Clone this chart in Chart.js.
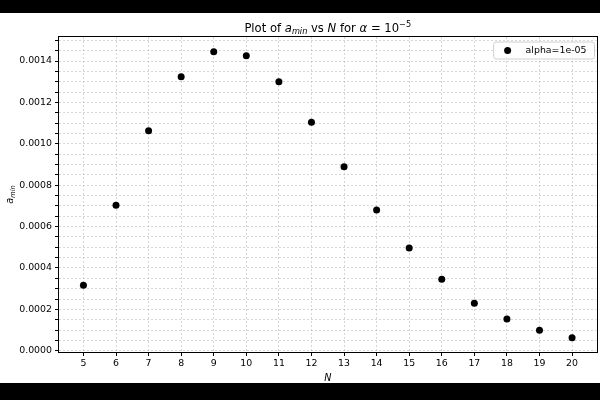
<!DOCTYPE html>
<html><head><meta charset="utf-8">
<script src="https://cdn.jsdelivr.net/npm/chart.js@4/dist/chart.umd.min.js"></script>
<style>
html,body{margin:0;padding:0;background:#000;width:600px;height:400px;overflow:hidden}
#wrap{position:absolute;left:0;top:13px;width:600px;height:370px;background:#fff}
canvas{display:block}
</style></head><body>
<div id="wrap"><canvas id="c" width="600" height="370"></canvas></div>
<script>
// ---- data ----
const categoriesN = [5, 6, 7, 8, 9, 10, 11, 12, 13, 14, 15, 16, 17, 18, 19, 20];
const aMinValues = [0.000317, 0.000703, 0.001063, 0.001324, 0.001445, 0.001426, 0.001300, 0.001104,
                    0.000889, 0.000680, 0.000496, 0.000346, 0.000230, 0.000153, 0.000099, 0.000063];
const seriesLabel = 'alpha=1e-05';
const xTickValues = [5, 6, 7, 8, 9, 10, 11, 12, 13, 14, 15, 16, 17, 18, 19, 20];
const yMajorTicks = [0, 0.0002, 0.0004, 0.0006, 0.0008, 0.0010, 0.0012, 0.0014];
const yTickLabels = ['0.0000', '0.0002', '0.0004', '0.0006', '0.0008', '0.0010', '0.0012', '0.0014'];
const yMinorStep = 0.00005;

const FONT = "'DejaVu Sans', sans-serif";
const yAllTicks = [];
for (let i = 0; i * yMinorStep <= 0.0015 + 1e-12; i++) yAllTicks.push(+(i * yMinorStep).toFixed(6));

const gridColor = 'rgba(160,160,160,0.7)';

const titlePlugin = {
  id: 'mathTitle',
  afterDraw(chart) {
    const ctx = chart.ctx, ca = chart.chartArea;
    const size = 11.6, small = 8.2;
    const parts = [
      {t: 'Plot of ', s: size, it: false, dy: 0},
      {t: 'a', s: size, it: true, dy: 0},
      {t: 'min', s: small, it: true, dy: 2.6},
      {t: ' vs ', s: size, it: false, dy: 0},
      {t: 'N', s: size, it: true, dy: 0},
      {t: ' for ', s: size, it: false, dy: 0},
      {t: 'α', s: size, it: true, dy: 0},
      {t: ' = 10', s: size, it: false, dy: 0},
      {t: '−5', s: small, it: false, dy: -4.8}
    ];
    ctx.save();
    ctx.fillStyle = '#000';
    ctx.textBaseline = 'alphabetic';
    ctx.textAlign = 'left';
    let total = 0;
    parts.forEach(p => { ctx.font = (p.it ? 'italic ' : '') + p.s + 'px ' + FONT; p.w = ctx.measureText(p.t).width; total += p.w; });
    let x = (ca.left + ca.right) / 2 - total / 2;
    const base = 18.5;
    parts.forEach(p => { ctx.font = (p.it ? 'italic ' : '') + p.s + 'px ' + FONT; ctx.fillText(p.t, x, base + p.dy); x += p.w; });
    ctx.restore();
  }
};

const yLabelPlugin = {
  id: 'yLabel',
  afterDraw(chart) {
    const ctx = chart.ctx, ca = chart.chartArea;
    ctx.save();
    ctx.translate(12.5, (ca.top + ca.bottom) / 2);
    ctx.rotate(-Math.PI / 2);
    ctx.fillStyle = '#000';
    ctx.textBaseline = 'alphabetic';
    ctx.font = 'italic 9.6px ' + FONT;
    const w1 = ctx.measureText('a').width;
    ctx.font = 'italic 6.8px ' + FONT;
    const w2 = ctx.measureText('min').width;
    const x0 = -(w1 + w2) / 2;
    ctx.font = 'italic 9.6px ' + FONT;
    ctx.fillText('a', x0, 0);
    ctx.font = 'italic 6.8px ' + FONT;
    ctx.fillText('min', x0 + w1, 2);
    ctx.restore();
  }
};

const framePlugin = {
  id: 'frame',
  afterDatasetsDraw(chart) {
    const ctx = chart.ctx, ca = chart.chartArea;
    ctx.save();
    ctx.strokeStyle = '#000';
    ctx.lineWidth = 1;
    ctx.strokeRect(Math.round(ca.left) - 0.5, Math.round(ca.top) - 0.5,
                   Math.round(ca.right - ca.left) + 1, Math.round(ca.bottom - ca.top) + 1);
    ctx.restore();
  }
};

const legendPlugin = {
  id: 'mplLegend',
  afterDraw(chart) {
    const ctx = chart.ctx, ca = chart.chartArea;
    const ds = chart.data.datasets[0];
    ctx.save();
    ctx.font = '9.4px ' + FONT;
    const tw = ctx.measureText(ds.label).width;
    const bw = 32 + tw + 8, bh = 17;
    const bx = ca.right - 2 - bw, by = ca.top + 5;
    const r = 2.5;
    ctx.beginPath();
    ctx.moveTo(bx + r, by);
    ctx.arcTo(bx + bw, by, bx + bw, by + bh, r);
    ctx.arcTo(bx + bw, by + bh, bx, by + bh, r);
    ctx.arcTo(bx, by + bh, bx, by, r);
    ctx.arcTo(bx, by, bx + bw, by, r);
    ctx.closePath();
    ctx.fillStyle = 'rgba(255,255,255,0.85)';
    ctx.fill();
    ctx.strokeStyle = '#d0d0d0';
    ctx.lineWidth = 1;
    ctx.stroke();
    ctx.beginPath();
    ctx.arc(bx + 14, by + bh / 2, 3.5, 0, Math.PI * 2);
    ctx.fillStyle = ds.backgroundColor;
    ctx.fill();
    ctx.fillStyle = '#000';
    ctx.textBaseline = 'middle';
    ctx.fillText(ds.label, bx + 32, by + bh / 2 + 0.5);
    ctx.restore();
  }
};

new Chart(document.getElementById('c'), {
  type: 'scatter',
  data: {
    datasets: [{
      label: seriesLabel,
      data: categoriesN.map((n, i) => ({x: n, y: aMinValues[i]})),
      backgroundColor: '#000',
      borderColor: '#000',
      pointRadius: 3.5,
      pointHoverRadius: 3.5,
      borderWidth: 0
    }]
  },
  options: {
    responsive: false,
    animation: false,
    devicePixelRatio: 1,
    layout: {padding: {top: 24, right: 2, left: 0, bottom: 0}},
    plugins: {legend: {display: false}, title: {display: false}, tooltip: {enabled: false}},
    scales: {
      x: {
        type: 'linear', min: 4.25, max: 20.75,
        afterBuildTicks: s => { s.ticks = xTickValues.map(v => ({value: v})); },
        afterFit: s => { s.height = 31; },
        ticks: {autoSkip: false, maxRotation: 0, padding: 2, color: '#000',
                font: {family: FONT, size: 9.4}, callback: v => String(v)},
        grid: {color: gridColor, lineWidth: 0.6, tickColor: '#000', tickLength: 4, tickWidth: 1},
        border: {display: false, dash: [2, 2]},
        title: {display: true, text: 'N', color: '#000', padding: 0,
                font: {family: FONT, size: 9.6, style: 'italic', lineHeight: 1}}
      },
      y: {
        type: 'linear', min: -0.000006, max: 0.001516,
        afterBuildTicks: s => { s.ticks = yAllTicks.map(v => ({value: v})); },
        afterFit: s => { s.width = 59; },
        ticks: {autoSkip: false, padding: 3, color: '#000', font: {family: FONT, size: 9.4},
                callback: v => { const i = yMajorTicks.findIndex(m => Math.abs(m - v) < 1e-9); return i >= 0 ? yTickLabels[i] : ''; }},
        grid: {color: gridColor, lineWidth: 0.6, tickColor: '#000', tickLength: 4, tickWidth: 1},
        border: {display: false, dash: [2, 2]}
      }
    }
  },
  plugins: [titlePlugin, yLabelPlugin, framePlugin, legendPlugin]
});
</script>
</body></html>
